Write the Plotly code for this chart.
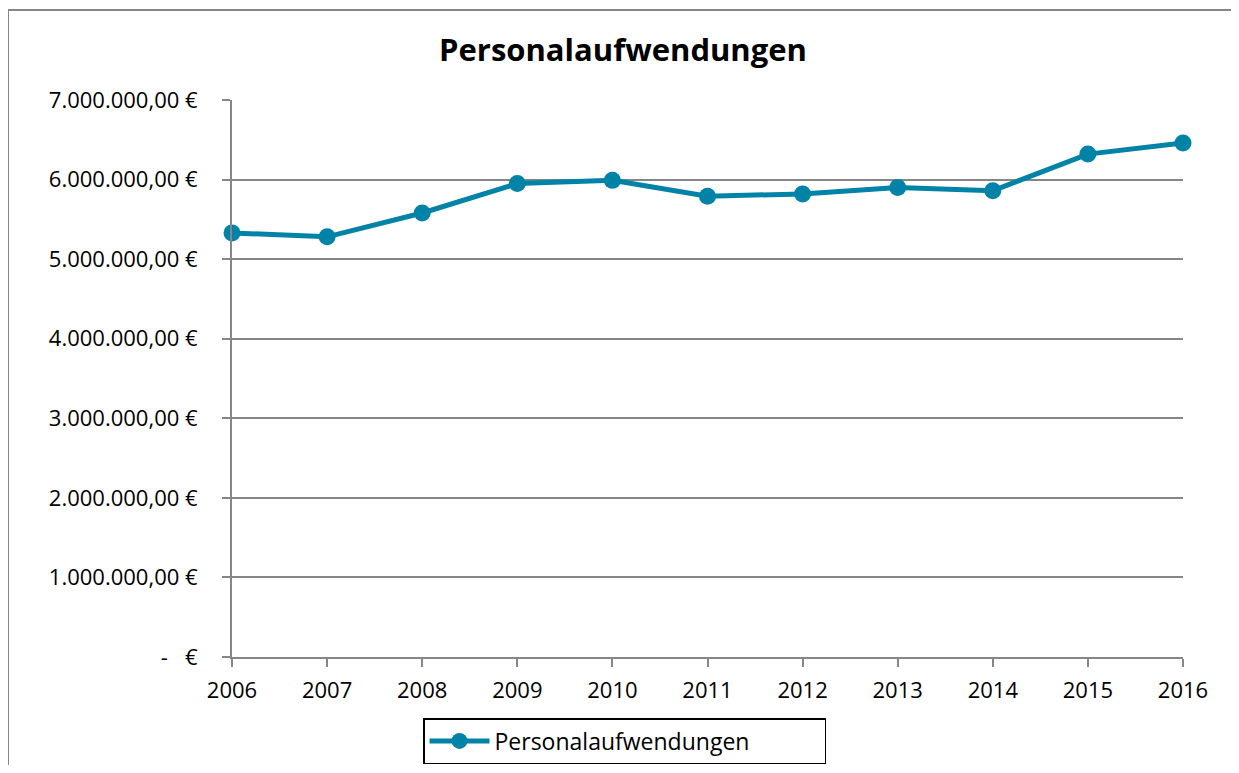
import plotly.graph_objects as go

years = ["2006", "2007", "2008", "2009", "2010", "2011", "2012", "2013", "2014", "2015", "2016"]
personal = [5330000, 5280000, 5580000, 5950000, 5990000, 5790000, 5820000, 5900000, 5860000, 6320000, 6460000]
ytick_vals = [0, 1000000, 2000000, 3000000, 4000000, 5000000, 6000000, 7000000]
ytick_text = ["-   €", "1.000.000,00 €", "2.000.000,00 €", "3.000.000,00 €", "4.000.000,00 €",
              "5.000.000,00 €", "6.000.000,00 €", "7.000.000,00 €"]

# page body has an 8px margin; figure coordinates are offset accordingly
OFF = 8
W, H = 1239 - 2 * OFF, 773 - 2 * OFF
L, R, T, B = 232 - OFF, 1183 - OFF, 100 - OFF, 657 - OFF
pw, ph = R - L, B - T

def px(x):
    return (x - OFF - L) / pw

def py(y):
    return (B - (y - OFF)) / ph

color = "#0083A6"
grid = "#868686"
font = "'Open Sans', Lato, sans-serif"

fig = go.Figure()
fig.add_trace(go.Scatter(
    x=list(range(len(years))), y=personal, mode="lines+markers",
    name="Personalaufwendungen", cliponaxis=False,
    line=dict(color=color, width=5),
    marker=dict(color=color, size=17),
))

fig.update_layout(
    width=W, height=H,
    margin=dict(l=L, r=W - R, t=T, b=H - B, autoexpand=False),
    paper_bgcolor="white", plot_bgcolor="white",
    font=dict(family=font, size=22, color="black"),
    title=dict(text="<b>Personalaufwendungen</b>", x=(623 - OFF) / W, xanchor="center",
               y=1 - (50 - OFF) / H, yanchor="middle", font=dict(size=31, family=font)),
    showlegend=True,
    legend=dict(x=px(423), y=py(718), xanchor="left", yanchor="top", orientation="h",
                bordercolor="black", borderwidth=1.5, bgcolor="white",
                font=dict(size=23), entrywidth=325, itemwidth=60),
    xaxis=dict(range=[0, len(years) - 1], tickvals=list(range(len(years))), ticktext=years,
               showgrid=False, zeroline=False, showline=True, linecolor=grid, linewidth=2,
               ticks="outside", ticklen=8, tickwidth=2, tickcolor=grid,
               ticklabelstandoff=5, tickfont=dict(size=22)),
    yaxis=dict(range=[0, 7000000], tickvals=ytick_vals, ticktext=ytick_text,
               showgrid=True, gridcolor=grid, gridwidth=1.5, zeroline=False,
               showline=True, linecolor=grid, linewidth=2,
               ticks="outside", ticklen=8, tickwidth=2, tickcolor=grid,
               ticklabelstandoff=20, tickfont=dict(size=22)),
)

# outer chart border (top and left visible)
fig.add_shape(type="line", xref="paper", yref="paper", x0=px(8), x1=px(1250), y0=py(10), y1=py(10),
              line=dict(color=grid, width=2))
fig.add_shape(type="line", xref="paper", yref="paper", x0=px(8), x1=px(8), y0=py(10), y1=py(780),
              line=dict(color=grid, width=2))

fig.write_html("out.html")
